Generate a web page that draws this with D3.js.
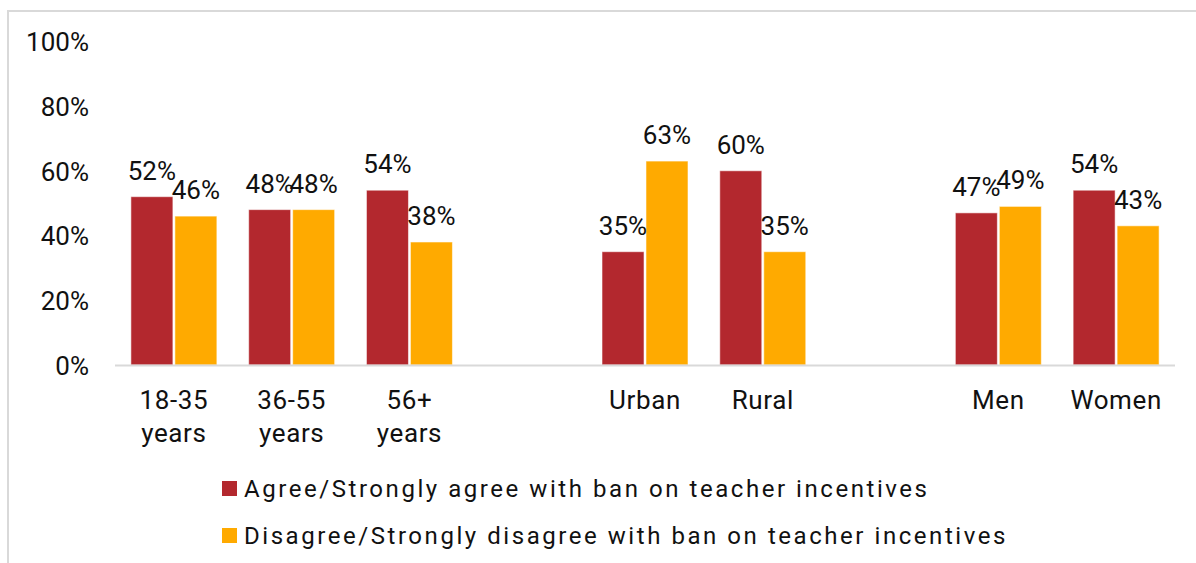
<!DOCTYPE html>
<html>
<head>
<meta charset="utf-8">
<script src="https://cdn.jsdelivr.net/npm/d3@7"></script>
<style>
  html, body { margin: 0; padding: 0; background: #fff; }
  svg { display: block; font-family: Roboto, "Open Sans", sans-serif; }
</style>
</head>
<body>
<svg id="chart" width="1196" height="563"></svg>
<script>
// Categories along the x axis; null marks an empty slot separating the groups
const categories = ["18-35 years", "36-55 years", "56+ years", null, "Urban", "Rural", null, "Men", "Women"];
const agree      = [0.52, 0.48, 0.54, null, 0.35, 0.60, null, 0.47, 0.54];
const disagree   = [0.46, 0.48, 0.38, null, 0.63, 0.35, null, 0.49, 0.43];
const seriesNames = [
  "Agree/Strongly agree with ban on teacher incentives",
  "Disagree/Strongly disagree with ban on teacher incentives"
];
const seriesColors = ["#B3282E", "#FFAA00"];
const yTicks = [0, 0.2, 0.4, 0.6, 0.8, 1.0];

const svg = d3.select("#chart");
const W = 1196, H = 563;
const plot = { left: 115, right: 1175, top: 41.3, bottom: 365 };

// outer frame
svg.append("rect")
  .attr("x", 8).attr("y", 11)
  .attr("width", W + 20).attr("height", H + 20)
  .attr("fill", "none").attr("stroke", "#d9d9d9").attr("stroke-width", 2);

const x = d3.scaleBand()
  .domain(d3.range(categories.length))
  .range([plot.left, plot.right])
  .paddingInner(0.27)
  .paddingOuter(0.135);

const xs = d3.scaleBand()
  .domain([0, 1])
  .range([0, x.bandwidth()])
  .paddingInner(0.045);

const y = d3.scaleLinear().domain([0, 1]).range([plot.bottom, plot.top]);

// y axis: labels only
const yAxis = svg.append("g")
  .attr("transform", `translate(${plot.left},0)`)
  .call(d3.axisLeft(y).tickValues(yTicks).tickFormat(d3.format(".0%")).tickSize(0).tickPadding(26));
yAxis.select(".domain").remove();
yAxis.selectAll("text")
  .attr("font-size", 26).attr("fill", "#111")
  .attr("font-family", "Roboto, sans-serif")
  .attr("dy", "0.36em");

// bars
const rows = categories.map((c, i) => ({ i, values: [agree[i], disagree[i]] }))
  .filter(d => categories[d.i] !== null);

const groups = svg.append("g").selectAll("g")
  .data(rows).join("g")
  .attr("transform", d => `translate(${x(d.i)},0)`);

groups.selectAll("rect")
  .data(d => d.values.map((v, s) => ({ v, s })))
  .join("rect")
  .attr("x", d => xs(d.s))
  .attr("width", xs.bandwidth())
  .attr("y", d => y(d.v))
  .attr("height", d => y(0) - y(d.v))
  .attr("fill", d => seriesColors[d.s])
  .attr("stroke", "rgba(255,255,255,0.55)")
  .attr("stroke-width", 1);

groups.selectAll("text.val")
  .data(d => d.values.map((v, s) => ({ v, s })))
  .join("text")
  .attr("class", "val")
  .attr("x", d => xs(d.s) + xs.bandwidth() / 2)
  .attr("y", d => y(d.v) - 17)
  .attr("text-anchor", "middle")
  .attr("font-size", 26)
  .attr("fill", "#111")
  .text(d => d3.format(".0%")(d.v));

// baseline
svg.append("line")
  .attr("x1", plot.left).attr("x2", plot.right)
  .attr("y1", y(0) + 0.5).attr("y2", y(0) + 0.5)
  .attr("stroke", "#d9d9d9").attr("stroke-width", 2);

// x axis category labels
const xAxis = svg.append("g")
  .attr("transform", `translate(0,${plot.bottom})`)
  .call(d3.axisBottom(x).tickSize(0).tickFormat(i => categories[i] || ""));
xAxis.select(".domain").remove();
xAxis.selectAll("text").each(function (i) {
  const t = d3.select(this);
  const label = categories[i];
  t.text(null).attr("y", 0).attr("dy", null)
    .attr("font-size", 26).attr("fill", "#111")
    .attr("letter-spacing", 0.6)
    .attr("font-family", "Roboto, sans-serif");
  if (!label) return;
  const lines = label.replace(" years", "\nyears").split("\n");
  lines.forEach((ln, k) => {
    t.append("tspan").attr("x", 0).attr("y", 44 + k * 33).text(ln);
  });
});

// legend
const legend = svg.append("g").selectAll("g")
  .data(seriesNames).join("g")
  .attr("transform", (d, k) => `translate(222,${481 + k * 47})`);
legend.append("rect")
  .attr("width", 15).attr("height", 15)
  .attr("fill", (d, k) => seriesColors[k]);
legend.append("text")
  .attr("x", 22).attr("y", 16)
  .attr("font-family", "Roboto, sans-serif")
  .attr("font-size", 24)
  .attr("letter-spacing", 2.55)
  .attr("fill", "#111")
  .text(d => d);
</script>
</body>
</html>
